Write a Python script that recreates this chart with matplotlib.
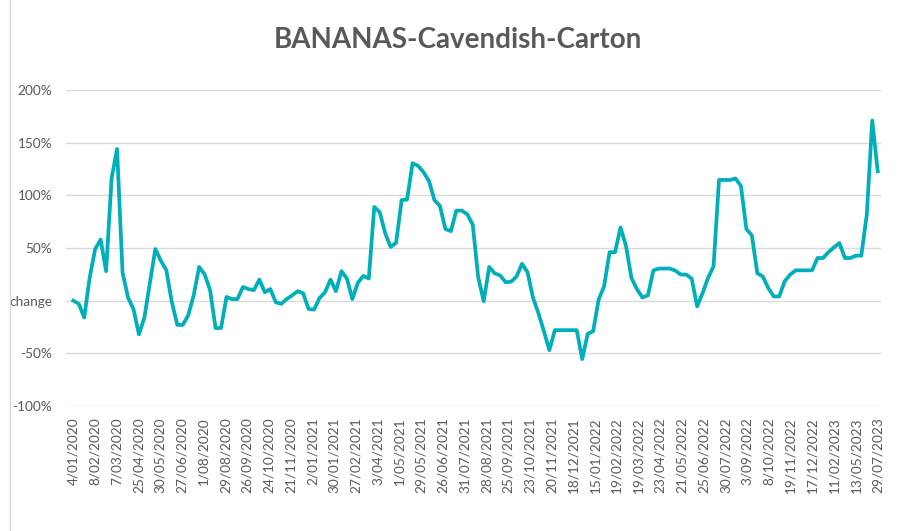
import matplotlib
matplotlib.use("Agg")
import matplotlib.pyplot as plt
from matplotlib.lines import Line2D
import numpy as np

plt.rcParams['font.family'] = ['Lato', 'DejaVu Sans']

# weekly % change
pct_change = [
    0, -3, -16, 22, 49, 58, 28, 116, 144, 27,
    3, -8, -32, -16, 17, 49, 38, 29, -1, -23,
    -23, -14, 5, 32, 25, 10, -26, -26, 3.5, 1.5,
    1.5, 13, 11, 10, 20, 8, 11, -1.5, -3, 1.5,
    5, 9, 7, -8, -8.5, 2.5, 8, 20, 9, 28,
    21, 1.5, 17, 23.5, 21, 89, 84, 64, 51, 55,
    95.5, 96, 130.5, 128, 122, 113.5, 95.5, 90, 68, 66,
    85.5, 85.5, 82, 72, 22, -0.5, 32, 26, 24, 17.5,
    18, 23, 35, 27, 3, -12, -29, -47, -28, -28,
    -28, -28, -28, -55.5, -31.5, -29, 1, 13.7, 46, 46,
    69.5, 52, 21.5, 11, 3, 5, 28.6, 30.5, 30.5, 30.5,
    28.6, 24.8, 24.8, 21, -5.4, 7.3, 21.6, 32.7, 114.6, 114.6,
    114.6, 116, 109, 68, 62, 26, 23, 12, 4, 4,
    18.4, 24.7, 28.8, 28.8, 28.8, 28.8, 40.5, 40.5, 46, 50.6,
    54.7, 40.5, 40.5, 42.7, 42.7, 81.6, 171, 122.8,
]

date_labels = [
    "4/01/2020", "8/02/2020", "7/03/2020", "25/04/2020", "30/05/2020",
    "27/06/2020", "1/08/2020", "29/08/2020", "26/09/2020", "24/10/2020",
    "21/11/2020", "2/01/2021", "30/01/2021", "27/02/2021", "3/04/2021",
    "1/05/2021", "29/05/2021", "26/06/2021", "31/07/2021", "28/08/2021",
    "25/09/2021", "23/10/2021", "20/11/2021", "18/12/2021", "15/01/2022",
    "19/02/2022", "19/03/2022", "23/04/2022", "21/05/2022", "25/06/2022",
    "30/07/2022", "3/09/2022", "8/10/2022", "19/11/2022", "17/12/2022",
    "11/02/2023", "13/05/2023", "29/07/2023",
]

y_ticks = [-100, -50, 0, 50, 100, 150, 200]
y_labels = ["-100%", "-50%", "change", "50%", "100%", "150%", "200%"]

text_col = '#595959'
line_col = '#00AFB9'

fig = plt.figure(figsize=(8.99, 5.31), dpi=100)
ax = fig.add_axes([66/899, 1 - 406/531, (881 - 66)/899, (406 - 90)/531])

x = np.arange(len(pct_change))
ax.plot(x, pct_change, color=line_col, lw=2.7, solid_joinstyle='round')

ax.set_ylim(-100, 200)
ax.set_xlim(-1.33, len(pct_change) - 1 + 0.6)
ax.set_yticks(y_ticks)
ax.set_yticklabels(y_labels)
ax.set_xticks(np.linspace(0, len(pct_change) - 1, len(date_labels)))
ax.set_xticklabels(date_labels, rotation=90)

ax.grid(axis='y', color='#D9D9D9', lw=1)
ax.set_axisbelow(True)
for s in ax.spines.values():
    s.set_visible(False)
ax.tick_params(axis='both', length=0, colors=text_col, labelsize=9.8)
ax.tick_params(axis='y', pad=10)
ax.tick_params(axis='x', pad=8)

fig.text(458/899, 1 - 40/531, "BANANAS-Cavendish-Carton", ha='center', va='center',
         fontsize=20, fontweight='bold', color=text_col)

# chart border on the left
fig.add_artist(Line2D([10/899, 10/899], [0, 1], color='#D9D9D9', lw=1))

fig.savefig("out.png", dpi=100)
